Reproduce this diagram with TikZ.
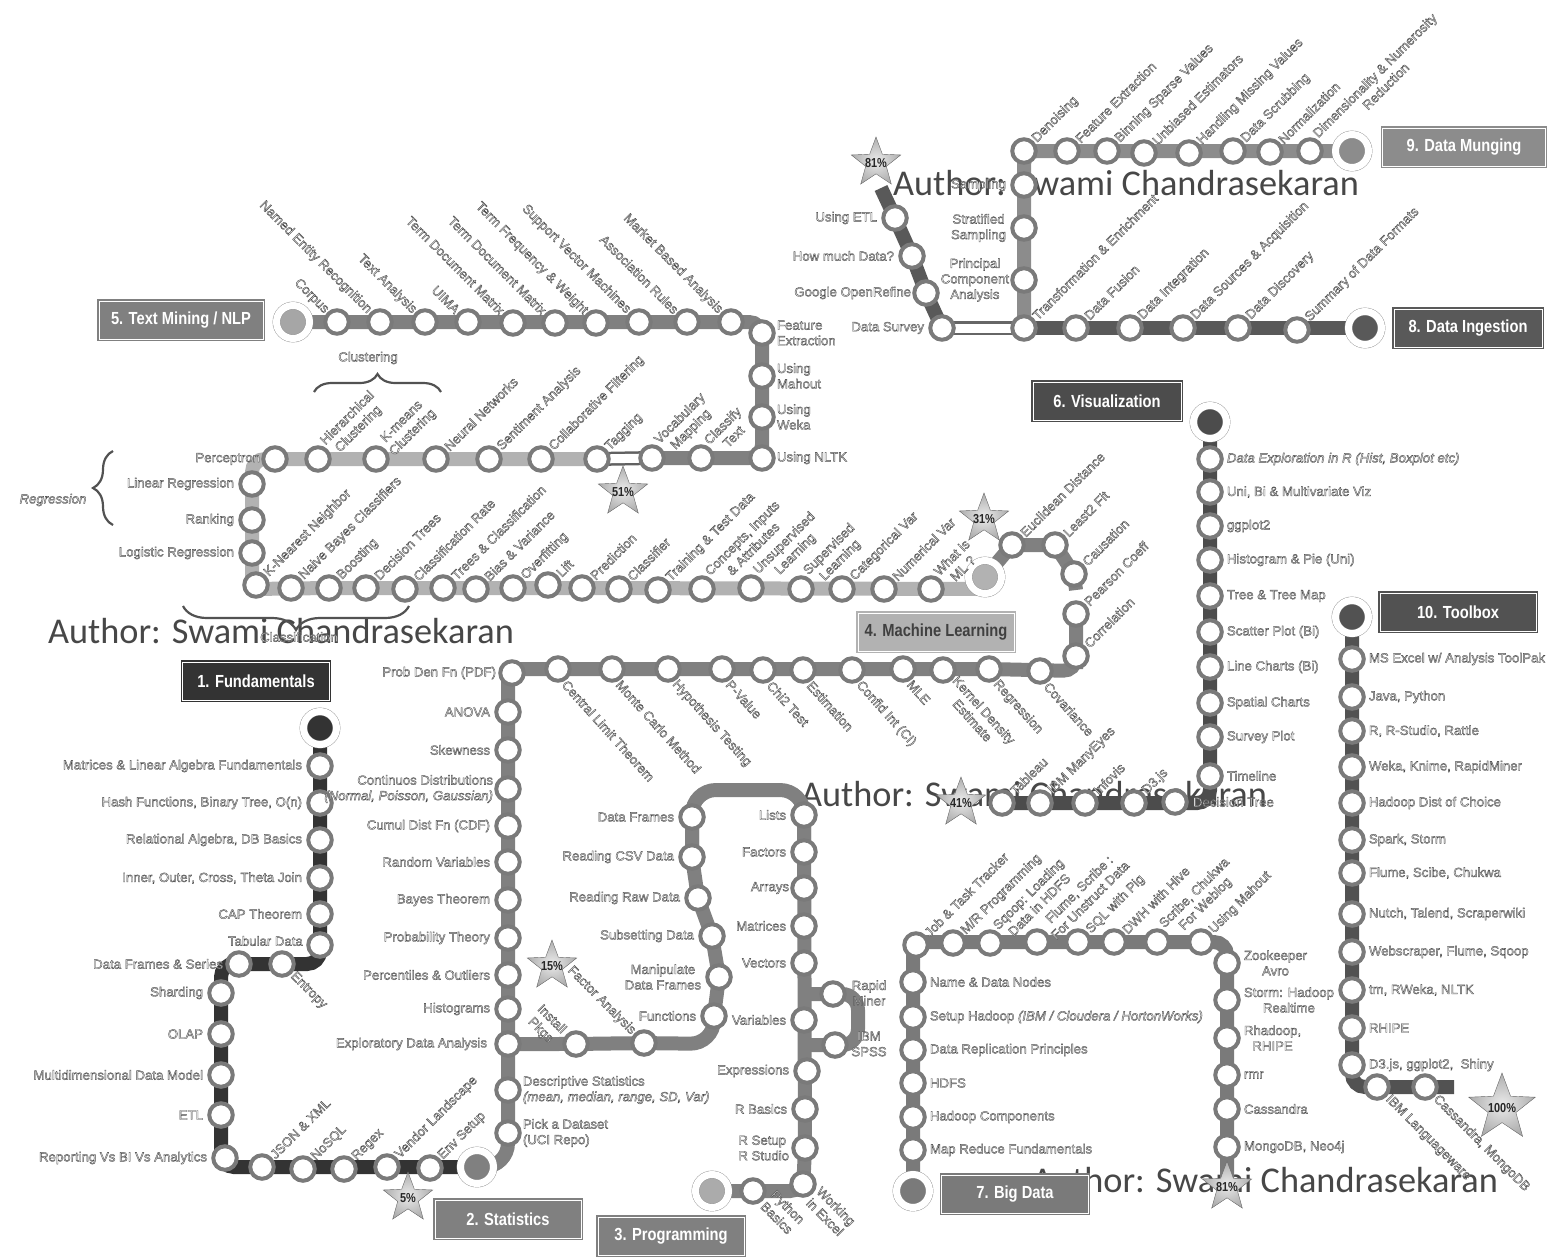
\documentclass[tikz,border=0pt]{standalone}
\usepackage{fontspec}
\setmainfont{Liberation Sans}
\newfontfamily\authorfont{Carlito}
\newfontfamily\boxfont[FakeStretch=0.84]{Liberation Sans Bold}
\usetikzlibrary{positioning,shapes.geometric,decorations.pathreplacing,backgrounds}

\newcommand{\outlineon}{\special{pdf:code q 2 Tr 0.38 w 0.3 G 0.92 g}}
\newcommand{\outlineoff}{\special{pdf:code Q}}

\begin{document}
\begin{tikzpicture}[x=1pt,y=-1pt,
    station/.style={circle,draw=black!52,fill=white,line width=4pt,minimum size=23.5pt,inner sep=0pt},
    terminal/.style={circle,draw=black!45,double=white,double distance=7pt,line width=0.4pt,minimum size=33pt,inner sep=0pt,fill=#1},
    title/.style={rectangle,draw=#1,fill=#1,double=white,double distance=1pt,line width=1.4pt,minimum width=146pt,minimum height=38pt,inner sep=0pt,text=white,font=\boxfont\fontsize{17.5}{19}\selectfont},
    lbl/.style={inner sep=1pt,font=\fontsize{13.2}{15.5}\selectfont,execute at begin node=\outlineon,execute at end node=\outlineoff},
    lblNE/.style={lbl,anchor=west,rotate=45,align=center},
    lblNW/.style={lbl,anchor=east,rotate=-45,align=center},
    lblSE/.style={lbl,anchor=west,rotate=-45,align=center},
    lblS/.style={lbl,anchor=west,rotate=-48,align=center},
    star5/.style={star,star points=5,star point ratio=2.4,minimum size=#1,inner sep=0pt,draw=black!60,inner color=black!8,outer color=black!32},
    starlbl/.style={inner sep=0pt,font=\boxfont\fontsize{13}{14}\selectfont,text=black!85},
    author/.style={text=black!72,inner sep=0pt,font=\authorfont\fontsize{36.3}{38}\selectfont},
    band/.style={line width=14pt,draw=#1,rounded corners=13pt},
    tube/.style={line width=14pt,draw=#1,postaction={draw=white,line width=9pt}},
    bracket/.style={draw=black!68,line width=2.2pt,decorate,decoration={brace,amplitude=#1}}
  ]
  \useasboundingbox (0,0) rectangle (1550,1258);

  % 1. Fundamentals
  \node[title=black!80,minimum width=147pt] (b1) at (256,681) {1. Fundamentals};
  \node[terminal=black!80] (t1) at (320,728) {};
  \node[station] (f1) at (320,766) {};
  \node[station] (f2) at (320,803) {};
  \node[station] (f3) at (320,840) {};
  \node[station] (f4) at (320,878) {};
  \node[station] (f5) at (320,914) {};
  \node[station] (f6) at (320,945) {};
  \node[station] (f7) at (282,964) {};
  \node[station] (f8) at (239,964) {};
  \node[station] (f9) at (221,993) {};
  \node[station] (f10) at (221,1034) {};
  \node[station] (f11) at (221,1075) {};
  \node[station] (f12) at (221,1115) {};
  \node[station] (f13) at (225,1158) {};
  \node[station] (f14) at (262,1167) {};
  \node[station] (f15) at (303,1169) {};
  \node[station] (f16) at (344,1169) {};
  \node[station] (f17) at (387,1167) {};
  \node[station] (f18) at (430,1168) {};
  \coordinate (f6c) at (320,964);
  \coordinate (f8c) at (221,964);
  \coordinate (f13c) at (221,1167);
  \node[lbl,left=3pt of f1] (f1l) {Matrices \& Linear Algebra Fundamentals};
  \node[lbl,left=3pt of f2] (f2l) {Hash Functions, Binary Tree, O(n)};
  \node[lbl,left=3pt of f3] (f3l) {Relational Algebra, DB Basics};
  \node[lbl,left=3pt of f4] (f4l) {Inner, Outer, Cross, Theta Join};
  \node[lbl,left=3pt of f5] (f5l) {CAP Theorem};
  \node[lbl,anchor=east] (f6l) at (304,941) {Tabular Data};
  \node[lblSE] (f7l) at (f7.south east) {Entropy};
  \node[lbl,left=1pt of f8] (f8l) {Data Frames \& Series};
  \node[lbl,left=3pt of f9] (f9l) {Sharding};
  \node[lbl,left=3pt of f10] (f10l) {OLAP};
  \node[lbl,left=3pt of f11] (f11l) {Multidimensional Data Model};
  \node[lbl,left=3pt of f12] (f12l) {ETL};
  \node[lbl,left=3pt of f13] (f13l) {Reporting Vs BI Vs Analytics};
  \node[lblNE] (f14l) at (f14.north east) {JSON \& XML};
  \node[lblNE] (f15l) at (f15.north east) {NoSQL};
  \node[lblNE] (f16l) at (f16.north east) {Regex};
  \node[lblNE] (f17l) at (f17.north east) {Vendor Landscape};
  \node[lblNE] (f18l) at (f18.north east) {Env Setup};
  \node[star5=52pt] (s5) at (408,1198) {};
  \node[starlbl] (s5l) at (s5) {5\%};

  % 2. Statistics
  \node[title=black!50] (b2) at (508,1219) {2. Statistics};
  \node[terminal=black!50] (t2) at (477,1167) {};
  \node[station] (d1) at (508,1133) {};
  \node[station] (d2) at (508,1090) {};
  \node[station] (d3) at (508,1044) {};
  \node[station] (d4) at (508,1009) {};
  \node[station] (d5) at (508,975) {};
  \node[station] (d6) at (508,938) {};
  \node[station] (d7) at (508,900) {};
  \node[station] (d8) at (508,862) {};
  \node[station] (d9) at (508,826) {};
  \node[station] (d10) at (508,789) {};
  \node[station] (d11) at (508,750) {};
  \node[station] (d12) at (508,712) {};
  \node[station] (d13) at (512,673) {};
  \node[station] (d14) at (558,669) {};
  \node[station] (d15) at (612,669) {};
  \node[station] (d16) at (668,669) {};
  \node[station] (d17) at (722,669) {};
  \node[station] (d18) at (763,670) {};
  \node[station] (d19) at (803,670) {};
  \node[station] (d20) at (852,670) {};
  \node[station] (d21) at (903,669) {};
  \node[station] (d22) at (943,670) {};
  \node[station] (d23) at (989,669) {};
  \node[station] (d24) at (1040,671) {};
  \node[station] (d25) at (1076,656) {};
  \node[station] (d26) at (1076,614) {};
  \coordinate (t2c) at (508,1167);
  \coordinate (d13c) at (508,669);
  \coordinate (d24c) at (1076,671);
  \coordinate (d26c) at (1076,602);
  \node[lbl,right=0pt of d1,align=left] (d1l) {Pick a Dataset\\(UCI Repo)};
  \node[lbl,right=0pt of d2,align=left] (d2l) {Descriptive Statistics\\\itshape(mean, median, range, SD, Var)};
  \node[lbl,left=6pt of d3] (d3l) {Exploratory Data Analysis};
  \node[lbl,left=3pt of d4] (d4l) {Histograms};
  \node[lbl,left=3pt of d5] (d5l) {Percentiles \& Outliers};
  \node[lbl,left=3pt of d6] (d6l) {Probability Theory};
  \node[lbl,left=3pt of d7] (d7l) {Bayes Theorem};
  \node[lbl,left=3pt of d8] (d8l) {Random Variables};
  \node[lbl,left=3pt of d9] (d9l) {Cumul Dist Fn (CDF)};
  \node[lbl,left=0pt of d10,align=right] (d10l) {Continuos Distributions\\\itshape(Normal, Poisson, Gaussian)};
  \node[lbl,left=3pt of d11] (d11l) {Skewness};
  \node[lbl,left=3pt of d12] (d12l) {ANOVA};
  \node[lbl,left=1pt of d13] (d13l) {Prob Den Fn (PDF)};
  \node[lblS] (d14l) at (d14.-65) {Central Limit Theorem};
  \node[lblS] (d15l) at (d15.-65) {Monte Carlo Method};
  \node[lblS] (d16l) at (d16.-65) {Hypothesis Testing};
  \node[lblS] (d17l) at (d17.-65) {P-Value};
  \node[lblS] (d18l) at (d18.-65) {Chi2 Test};
  \node[lblS] (d19l) at (d19.-65) {Estimation};
  \node[lblS] (d20l) at (d20.-65) {Confid Int (CI)};
  \node[lblS] (d21l) at (d21.-65) {MLE};
  \node[lblS] (d22l) at (d22.-65) {Kernel Density\\Estimate};
  \node[lblS] (d23l) at (d23.-65) {Regression};
  \node[lblS] (d24l) at (d24.-65) {Covariance};
  \node[lblNE] (d25l) at (d25.north east) {Correlation};
  \node[lblNE] (d26l) at (d26.north east) {Pearson Coeff};
  \node[star5=52pt] (s15) at (552,966) {};
  \node[starlbl] (s15l) at (s15) {15\%};

  % 3. Programming
  \node[title=black!50] (b3) at (671,1236) {3. Programming};
  \node[terminal=black!33] (t3) at (712,1191) {};
  \node[station] (p1) at (753,1191) {};
  \node[station] (p2) at (803,1184) {};
  \node[station] (p3) at (805,1148) {};
  \node[station] (p4) at (805,1109) {};
  \node[station] (p5) at (807,1071) {};
  \node[station] (p6) at (804,1020) {};
  \node[station] (p7) at (804,963) {};
  \node[station] (p8) at (804,926) {};
  \node[station] (p9) at (804,888) {};
  \node[station] (p10) at (804,852) {};
  \node[station] (p11) at (804,815) {};
  \node[station] (p12) at (692,817) {};
  \node[station] (p13) at (692,857) {};
  \node[station] (p14) at (698,898) {};
  \node[station] (p15) at (712,936) {};
  \node[station] (p16) at (719,977) {};
  \node[station] (p17) at (714,1016) {};
  \node[station] (p18) at (644,1043) {};
  \node[station] (p19) at (576,1044) {};
  \node[station] (p20) at (833,994) {};
  \node[station] (p21) at (835,1045) {};
  \coordinate (p11c) at (804,790);
  \coordinate (p12c) at (692,790);
  \coordinate (p17c) at (714,1044);
  \coordinate (p20a) at (804,994);
  \coordinate (p20c) at (858,994);
  \coordinate (p21c) at (858,1045);
  \coordinate (p21a) at (804,1045);
  \coordinate (p2c) at (803,1191);
  \node[lblSE] (p1l) at (767,1197) {Python\\Basics};
  \node[lblSE] (p2l) at (p2.south east) {Working\\in Excel};
  \node[lbl,left=1pt of p3,align=left] (p3l) {R Setup\\R Studio};
  \node[lbl,left=3pt of p4] (p4l) {R Basics};
  \node[lbl,left=3pt of p5] (p5l) {Expressions};
  \node[lbl,left=3pt of p6] (p6l) {Variables};
  \node[lbl,left=3pt of p7] (p7l) {Vectors};
  \node[lbl,left=3pt of p8] (p8l) {Matrices};
  \node[lbl,left=0pt of p9] (p9l) {Arrays};
  \node[lbl,left=3pt of p10] (p10l) {Factors};
  \node[lbl,left=3pt of p11] (p11l) {Lists};
  \node[lbl,left=3pt of p12] (p12l) {Data Frames};
  \node[lbl,left=3pt of p13] (p13l) {Reading CSV Data};
  \node[lbl,left=3pt of p14] (p14l) {Reading Raw Data};
  \node[lbl,left=3pt of p15] (p15l) {Subsetting Data};
  \node[lbl,left=3pt of p16,align=center] (p16l) {Manipulate\\Data Frames};
  \node[lbl,left=3pt of p17] (p17l) {Functions};
  \node[lblNW] (p18l) at (p18.north west) {Factor Analysis};
  \node[lblNW] (p19l) at (559,1038) {Install\\Pkgs};
  \node[lbl,align=center] (p20l) at (869,993) {Rapid\\Miner};
  \node[lbl,align=center] (p21l) at (869,1044) {IBM\\SPSS};

  % 4. Machine Learning
  \node[title=black!30,text=black!75,minimum width=156pt] (b4) at (936,632) {4. Machine Learning};
  \node[terminal=black!30] (t4) at (985,577) {};
  \node[station] (m1) at (931,589) {};
  \node[station] (m2) at (884,589) {};
  \node[station] (m3) at (842,589) {};
  \node[station] (m4) at (801,589) {};
  \node[station] (m5) at (751,588) {};
  \node[station] (m6) at (702,589) {};
  \node[station] (m7) at (658,590) {};
  \node[station] (m8) at (619,589) {};
  \node[station] (m9) at (582,588) {};
  \node[station] (m10) at (548,585) {};
  \node[station] (m11) at (513,588) {};
  \node[station] (m12) at (476,589) {};
  \node[station] (m13) at (443,588) {};
  \node[station] (m14) at (405,589) {};
  \node[station] (m15) at (366,588) {};
  \node[station] (m16) at (329,588) {};
  \node[station] (m17) at (291,588) {};
  \node[station] (m18) at (256,585) {};
  \node[station] (m19) at (252,553) {};
  \node[station] (m20) at (252,520) {};
  \node[station] (m21) at (252,484) {};
  \node[station] (m22) at (275,459) {};
  \node[station] (m23) at (318,459) {};
  \node[station] (m24) at (376,459) {};
  \node[station] (m25) at (436,459) {};
  \node[station] (m26) at (489,459) {};
  \node[station] (m27) at (541,459) {};
  \node[station] (m28) at (597,459) {};
  \coordinate (t4c) at (985,589);
  \coordinate (m18c) at (252,589);
  \coordinate (m21c) at (252,459);
  \node[lblNE] (m1l) at (m1.north east) {What is\\ML ?};
  \node[lblNE] (m2l) at (m2.north east) {Numerical Var};
  \node[lblNE] (m3l) at (m3.north east) {Categorical Var};
  \node[lblNE] (m4l) at (m4.north east) {Supervised\\Learning};
  \node[lblNE] (m5l) at (m5.north east) {Unsupervised\\Learning};
  \node[lblNE] (m6l) at (m6.north east) {Concepts, Inputs\\\& Attributes};
  \node[lblNE] (m7l) at (m7.north east) {Training \& Test Data};
  \node[lblNE] (m8l) at (m8.north east) {Classifier};
  \node[lblNE] (m9l) at (m9.north east) {Prediction};
  \node[lblNE] (m10l) at (m10.north east) {Lift};
  \node[lblNE] (m11l) at (m11.north east) {Overfitting};
  \node[lblNE] (m12l) at (m12.north east) {Bias \& Variance};
  \node[lblNE] (m13l) at (m13.north east) {Trees \& Classification};
  \node[lblNE] (m14l) at (m14.north east) {Classification Rate};
  \node[lblNE] (m15l) at (m15.north east) {Decision Trees};
  \node[lblNE] (m16l) at (m16.north east) {Boosting};
  \node[lblNE] (m17l) at (m17.north east) {Naive Bayes Classifiers};
  \node[lblNE] (m18l) at (m18.north east) {K-Nearest Neighbor};
  \node[lbl,left=3pt of m19] (m19l) {Logistic Regression};
  \node[lbl,left=3pt of m20] (m20l) {Ranking};
  \node[lbl,left=3pt of m21] (m21l) {Linear Regression};
  \node[lbl,left=0pt of m22] (m22l) {Perceptron};
  \node[lblNE] (m23l) at (m23.north east) {Hierarchical\\Clustering};
  \node[lblNE] (m24l) at (m24.north east) {K-means\\Clustering};
  \node[lblNE] (m25l) at (m25.north east) {Neural Networks};
  \node[lblNE] (m26l) at (m26.north east) {Sentiment Analysis};
  \node[lblNE] (m27l) at (m27.north east) {Collaborative Filtering};
  \node[lblNE] (m28l) at (m28.north east) {Tagging};
  \node[station] (e1) at (1012,545) {};
  \node[station] (e2) at (1055,545) {};
  \node[station] (e3) at (1074,574) {};
  \coordinate (e1c) at (1012,545);
  \coordinate (e3c) at (1076,590);
  \node[lblNE] (e1l) at (e1.north east) {Euclidean Distance};
  \node[lblNE] (e2l) at (e2.north east) {Least2 Fit};
  \node[lblNE] (e3l) at (e3.north east) {Causation};
  \node[lbl,font=\itshape\fontsize{13.2}{15}\selectfont] (regl) at (53,500) {Regression};
  \node[lbl] (clul) at (368,358) {Clustering};
  \node[lbl] (clal) at (299,637) {Classification};
  \coordinate (rega) at (113,525);
  \coordinate (regb) at (113,451);
  \coordinate (clua) at (314,392);
  \coordinate (club) at (441,392);
  \coordinate (claa) at (409,606);
  \coordinate (clab) at (183,606);
  \draw[bracket=20pt] (rega) -- (regb);
  \draw[bracket=18pt] (clua) -- (club);
  \draw[bracket=24pt] (claa) -- (clab);
  \node[star5=52pt] (s31) at (984,519) {};
  \node[starlbl] (s31l) at (s31) {31\%};

  % 5. Text Mining / NLP
  \node[title=black!50,minimum width=164pt] (b5) at (181,320) {5. Text Mining / NLP};
  \node[terminal=black!35] (t5) at (293,322) {};
  \node[station] (n1) at (337,322) {};
  \node[station] (n2) at (380,322) {};
  \node[station] (n3) at (425,322) {};
  \node[station] (n4) at (468,322) {};
  \node[station] (n5) at (513,323) {};
  \node[station] (n6) at (555,323) {};
  \node[station] (n7) at (596,323) {};
  \node[station] (n8) at (639,322) {};
  \node[station] (n9) at (687,322) {};
  \node[station] (n10) at (731,322) {};
  \node[station] (n11) at (762,333) {};
  \node[station] (n12) at (762,376) {};
  \node[station] (n13) at (762,417) {};
  \node[station] (n14) at (762,458) {};
  \node[station] (n15) at (701,458) {};
  \node[station] (n16) at (652,458) {};
  \coordinate (n11c) at (762,322);
  \node[lblNW] (n1l) at (n1.north west) {Corpus};
  \node[lblNW] (n2l) at (n2.north west) {Named Entity Recognition};
  \node[lblNW] (n3l) at (n3.north west) {Text Analysis};
  \node[lblNW] (n4l) at (n4.north west) {UIMA};
  \node[lblNW] (n5l) at (n5.north west) {Term Document Matrix};
  \node[lblNW] (n6l) at (n6.north west) {Term Document Matrix};
  \node[lblNW] (n7l) at (n7.north west) {Term Frequency \& Weight};
  \node[lblNW] (n8l) at (n8.north west) {Support Vector Machines};
  \node[lblNW] (n9l) at (n9.north west) {Association Rules};
  \node[lblNW] (n10l) at (n10.north west) {Market Based Analysis};
  \node[lbl,right=0pt of n11,align=left] (n11l) {Feature\\Extraction};
  \node[lbl,right=0pt of n12,align=left] (n12l) {Using\\Mahout};
  \node[lbl,right=0pt of n13,align=left] (n13l) {Using\\Weka};
  \node[lbl,right=0pt of n14] (n14l) {Using NLTK};
  \node[lblNE] (n15l) at (n15.north east) {Classify\\Text};
  \node[lblNE] (n16l) at (n16.north east) {Vocabulary\\Mapping};
  \node[star5=52pt] (s51) at (623,492) {};
  \node[starlbl] (s51l) at (s51) {51\%};

  % 6. Visualization
  \node[title=black!70,minimum width=148pt] (b6) at (1107,401) {6. Visualization};
  \node[terminal=black!70] (t6) at (1210,422) {};
  \node[station] (v1) at (1210,459) {};
  \node[station] (v2) at (1210,492) {};
  \node[station] (v3) at (1210,526) {};
  \node[station] (v4) at (1210,560) {};
  \node[station] (v5) at (1210,596) {};
  \node[station] (v6) at (1210,632) {};
  \node[station] (v7) at (1210,667) {};
  \node[station] (v8) at (1210,703) {};
  \node[station] (v9) at (1210,737) {};
  \node[station] (v10) at (1210,776) {};
  \node[station] (v11) at (1175,802) {};
  \node[station] (v12) at (1134,803) {};
  \node[station] (v13) at (1085,803) {};
  \node[station] (v14) at (1040,803) {};
  \node[station] (v15) at (1002,803) {};
  \coordinate (v10c) at (1210,803);
  \node[lbl,right=2pt of v1] (v1l) {\itshape Data Exploration in R (Hist, Boxplot etc)};
  \node[lbl,right=2pt of v2] (v2l) {Uni, Bi \& Multivariate Viz};
  \node[lbl,right=2pt of v3] (v3l) {ggplot2};
  \node[lbl,right=2pt of v4] (v4l) {Histogram \& Pie (Uni)};
  \node[lbl,right=2pt of v5] (v5l) {Tree \& Tree Map};
  \node[lbl,right=2pt of v6] (v6l) {Scatter Plot (Bi)};
  \node[lbl,right=2pt of v7] (v7l) {Line Charts (Bi)};
  \node[lbl,right=2pt of v8] (v8l) {Spatial Charts};
  \node[lbl,right=2pt of v9] (v9l) {Survey Plot};
  \node[lbl,right=2pt of v10] (v10l) {Timeline};
  \node[lbl,right=3pt of v11] (v11l) {Decision Tree};
  \node[lblNE] (v12l) at (v12.north east) {D3.js};
  \node[lblNE] (v13l) at (v13.north east) {Infovis};
  \node[lblNE] (v14l) at (v14.north east) {IBM ManyEyes};
  \node[lblNE] (v15l) at (v15.north east) {Tableau};
  \node[star5=52pt] (s41) at (961,803) {};
  \node[starlbl] (s41l) at (s41) {41\%};

  % 7. Big Data
  \node[title=black!52,minimum width=147pt] (b7) at (1015,1194) {7. Big Data};
  \node[terminal=black!52] (t7) at (913,1191) {};
  \node[station] (h1) at (913,1150) {};
  \node[station] (h2) at (913,1117) {};
  \node[station] (h3) at (913,1083) {};
  \node[station] (h4) at (913,1050) {};
  \node[station] (h5) at (913,1017) {};
  \node[station] (h6) at (913,982) {};
  \node[station] (h7) at (916,945) {};
  \node[station] (h8) at (953,943) {};
  \node[station] (h9) at (990,943) {};
  \node[station] (h10) at (1037,942) {};
  \node[station] (h11) at (1078,942) {};
  \node[station] (h12) at (1114,942) {};
  \node[station] (h13) at (1157,942) {};
  \node[station] (h14) at (1201,942) {};
  \node[station] (h15) at (1227,963) {};
  \node[station] (h16) at (1227,1000) {};
  \node[station] (h17) at (1227,1038) {};
  \node[station] (h18) at (1227,1075) {};
  \node[station] (h19) at (1227,1109) {};
  \node[station] (h20) at (1227,1147) {};
  \coordinate (h7c) at (913,942);
  \coordinate (h14c) at (1227,942);
  \node[lbl,right=2pt of h1] (h1l) {Map Reduce Fundamentals};
  \node[lbl,right=2pt of h2] (h2l) {Hadoop Components};
  \node[lbl,right=2pt of h3] (h3l) {HDFS};
  \node[lbl,right=2pt of h4] (h4l) {Data Replication Principles};
  \node[lbl,right=2pt of h5] (h5l) {Setup Hadoop \textit{(IBM / Cloudera / HortonWorks)}};
  \node[lbl,right=2pt of h6] (h6l) {Name \& Data Nodes};
  \node[lblNE] (h7l) at (h7.north east) {Job \& Task Tracker};
  \node[lblNE] (h8l) at (h8.north east) {M/R Programming};
  \node[lblNE] (h9l) at (h9.north east) {Sqoop: Loading\\Data in HDFS};
  \node[lblNE] (h10l) at (h10.north east) {Flume, Scribe :\\For Unstruct Data};
  \node[lblNE] (h11l) at (h11.north east) {SQL with Pig};
  \node[lblNE] (h12l) at (h12.north east) {DWH with Hive};
  \node[lblNE] (h13l) at (h13.north east) {Scribe, Chukwa\\For Weblog};
  \node[lblNE] (h14l) at (h14.north east) {Using Mahout};
  \node[lbl,right=2pt of h15,align=center] (h15l) {Zookeeper\\Avro};
  \node[lbl,right=2pt of h16,align=center] (h16l) {Storm: Hadoop\\Realtime};
  \node[lbl,right=2pt of h17,align=center] (h17l) {Rhadoop,\\RHIPE};
  \node[lbl,right=2pt of h18] (h18l) {rmr};
  \node[lbl,right=2pt of h19] (h19l) {Cassandra};
  \node[lbl,right=2pt of h20] (h20l) {MongoDB, Neo4j};
  \node[star5=52pt] (s81) at (1227,1187) {};
  \node[starlbl] (s81l) at (s81) {81\%};

  % 8. Data Ingestion
  \node[title=black!65,minimum width=148pt] (b8) at (1468,328) {8. Data Ingestion};
  \node[terminal=black!65] (t8) at (1365,328) {};
  \node[station] (g1) at (1297,330) {};
  \node[station] (g2) at (1238,328) {};
  \node[station] (g3) at (1183,328) {};
  \node[station] (g4) at (1130,328) {};
  \node[station] (g5) at (1076,328) {};
  \node[station] (g6) at (1024,328) {};
  \node[station] (g7) at (942,328) {};
  \node[station] (g8) at (926,293) {};
  \node[station] (g9) at (912,256) {};
  \node[station] (g10) at (895,218) {};
  \coordinate (g11) at (881,188);
  \node[lblNE] (g1l) at (g1.north east) {Summary of Data Formats};
  \node[lblNE] (g2l) at (g2.north east) {Data Discovery};
  \node[lblNE] (g3l) at (g3.north east) {Data Sources \& Acquisition};
  \node[lblNE] (g4l) at (g4.north east) {Data Integration};
  \node[lblNE] (g5l) at (g5.north east) {Data Fusion};
  \node[lblNE] (g6l) at (g6.north east) {Transformation \& Enrichment};
  \node[lbl,left=3pt of g7] (g7l) {Data Survey};
  \node[lbl,left=0pt of g8] (g8l) {Google OpenRefine};
  \node[lbl,left=3pt of g9] (g9l) {How much Data?};
  \node[lbl,left=3pt of g10] (g10l) {Using ETL};
  \node[star5=52pt] (s81b) at (876,163) {};
  \node[starlbl] (s81bl) at (s81b) {81\%};

  % 9. Data Munging
  \node[title=black!45,minimum width=163pt] (b9) at (1464,147) {9. Data Munging};
  \node[terminal=black!45] (t9) at (1352,151) {};
  \node[station] (w1) at (1310,151) {};
  \node[station] (w2) at (1270,152) {};
  \node[station] (w3) at (1233,151) {};
  \node[station] (w4) at (1189,153) {};
  \node[station] (w5) at (1144,153) {};
  \node[station] (w6) at (1107,151) {};
  \node[station] (w7) at (1067,151) {};
  \node[station] (w8) at (1024,151) {};
  \node[station] (w9) at (1024,185) {};
  \node[station] (w10) at (1024,228) {};
  \node[station] (w11) at (1024,280) {};
  \node[lblNE] (w1l) at (w1.north east) {Dimensionality \& Numerosity\\Reduction};
  \node[lblNE] (w2l) at (w2.north east) {Normalization};
  \node[lblNE] (w3l) at (w3.north east) {Data Scrubbing};
  \node[lblNE] (w4l) at (w4.north east) {Handling Missing Values};
  \node[lblNE] (w5l) at (w5.north east) {Unbiased Estimators};
  \node[lblNE] (w6l) at (w6.north east) {Binning Sparse Values};
  \node[lblNE] (w7l) at (w7.north east) {Feature Extraction};
  \node[lblNE] (w8l) at (w8.north east) {Denoising};
  \node[lbl,left=3pt of w9] (w9l) {Sampling};
  \node[lbl,left=3pt of w10,align=center] (w10l) {Stratified\\Sampling};
  \node[lbl,left=0pt of w11,align=center] (w11l) {Principal\\Component\\Analysis};

  % 10. Toolbox
  \node[title=black!68,minimum width=156pt] (b10) at (1458,612) {10. Toolbox};
  \node[terminal=black!68] (t10) at (1352,617) {};
  \node[station] (k1) at (1352,659) {};
  \node[station] (k2) at (1352,697) {};
  \node[station] (k3) at (1352,731) {};
  \node[station] (k4) at (1352,767) {};
  \node[station] (k5) at (1352,803) {};
  \node[station] (k6) at (1352,840) {};
  \node[station] (k7) at (1352,873) {};
  \node[station] (k8) at (1352,914) {};
  \node[station] (k9) at (1352,952) {};
  \node[station] (k10) at (1352,990) {};
  \node[station] (k11) at (1352,1028) {};
  \node[station] (k12) at (1352,1065) {};
  \node[station] (k13) at (1377,1087) {};
  \node[station] (k14) at (1425,1087) {};
  \coordinate (k12c) at (1352,1087);
  \coordinate (k15) at (1454,1087);
  \node[lbl,right=2pt of k1] (k1l) {MS Excel w/ Analysis ToolPak};
  \node[lbl,right=2pt of k2] (k2l) {Java, Python};
  \node[lbl,right=2pt of k3] (k3l) {R, R-Studio, Rattle};
  \node[lbl,right=2pt of k4] (k4l) {Weka, Knime, RapidMiner};
  \node[lbl,right=2pt of k5] (k5l) {Hadoop Dist of Choice};
  \node[lbl,right=2pt of k6] (k6l) {Spark, Storm};
  \node[lbl,right=2pt of k7] (k7l) {Flume, Scibe, Chukwa};
  \node[lbl,right=2pt of k8] (k8l) {Nutch, Talend, Scraperwiki};
  \node[lbl,right=2pt of k9] (k9l) {Webscraper, Flume, Sqoop};
  \node[lbl,right=2pt of k10] (k10l) {tm, RWeka, NLTK};
  \node[lbl,right=2pt of k11] (k11l) {RHIPE};
  \node[lbl,right=2pt of k12] (k12l) {D3.js, ggplot2,\ \ Shiny};
  \node[lblSE] (k13l) at (k13.south east) {IBM Languageware};
  \node[lblSE] (k14l) at (k14.south east) {Cassandra, MongoDB};
  \node[star5=70pt] (s100) at (1502,1108) {};
  \node[starlbl] (s100l) at (s100) {100\%};

  \begin{scope}[on background layer]
    \node[author] (a1) at (281,631) {Author: Swami Chandrasekaran};
    \node[author] (a2) at (1126,183) {Author: Swami Chandrasekaran};
    \node[author] (a3) at (1034,794) {Author: Swami Chandrasekaran};
    \node[author] (a4) at (1265,1180) {Author: Swami Chandrasekaran};

    \draw[band=black!80] (t1.center) -- (f1.center) -- (f5.center) -- (f6c) -- (f7.center) -- (f8c) -- (f9.center) -- (f12.center) -- (f13c) -- (f14.center) -- (t2.center);
    \draw[band=black!50,rounded corners=24pt] (t2.center) -- (t2c) -- (d3.center);
    \draw[band=black!50] (d3.center) -- (d12.center) -- (d13c) -- (d14.center) -- (d23.center) -- (d24c) -- (d25.center) -- (d26c);
    \draw[band=black!50,rounded corners=24pt] (d3.center) -- (p19.center) -- (p18.center) -- (p17c) -- (p17.center);
    \draw[band=black!50,rounded corners=5pt] (p17.center) -- (p16.center) -- (p15.center) -- (p14.center) -- (p13.center) -- (p12.center);
    \draw[band=black!50,rounded corners=24pt] (p13.center) -- (p12c) -- (p11c) -- (p10.center);
    \draw[band=black!50] (t3.center) -- (p2c) -- (p3.center) -- (p11.center);
    \draw[band=black!50,rounded corners=16pt] (p20a) -- (p20c) -- (p21c) -- (p21a);
    \draw[band=black!30] (t4c) -- (m9.center) -- (m16.center) -- (m18c) -- (m21c) -- (m28.center);
    \draw[band=black!50] (t4.center) -- (e1c) -- (e2.center) -- (e3.center) -- (e3c);
    \draw[band=black!50] (t5.center) -- (n10.center) -- (n11c) -- (n14.center) -- (n16.center);
    \draw[tube=black!62] (m28.center) -- (n16.center);
    \draw[band=black!70] (t6.center) -- (v10c) -- (v15.center);
    \draw[band=black!52] (t7.center) -- (h7c) -- (h14c) -- (h20.center) -- (s81.center);
    \draw[band=black!65] (t8.center) -- (g6.center);
    \draw[band=black!65] (g7.center) -- (g8.center) -- (g9.center) -- (g10.center) -- (g11);
    \draw[tube=black!60] (g7.center) -- (g6.center);
    \draw[band=black!45] (t9.center) -- (w8.center) -- (g6.center);
    \draw[band=black!68] (t10.center) -- (k12c) -- (k15);
  \end{scope}
\end{tikzpicture}
\end{document}
